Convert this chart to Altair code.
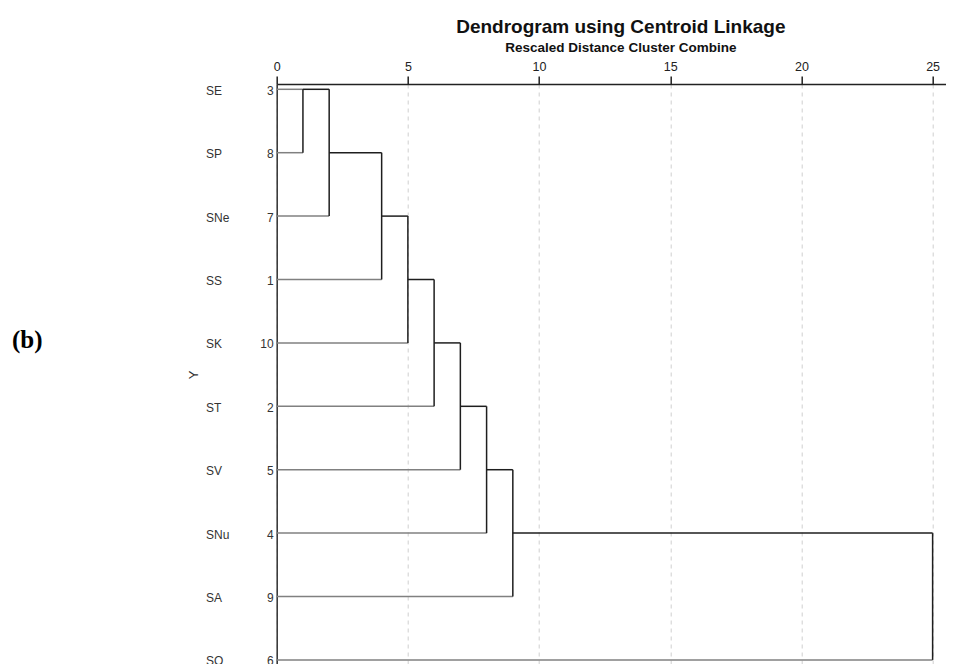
import altair as alt
import pandas as pd

# ---- data ----
row_labels = ["SE", "SP", "SNe", "SS", "SK", "ST", "SV", "SNu", "SA", "SO"]
case_numbers = ["3", "8", "7", "1", "10", "2", "5", "4", "9", "6"]
leaf_join = [1, 1, 2, 4, 5, 6, 7, 8, 9, 25]        # distance where each leaf joins
merge_dist = [1, 2, 4, 5, 6, 7, 8, 9, 25]          # rescaled distance of each merge
merge_top = [0, 0, 1, 2, 3, 4, 5, 6, 7]            # upper row of the merge bracket
merge_bottom = [1, 2, 3, 4, 5, 6, 7, 8, 9]         # lower row of the merge bracket
cluster_row = [0, 1, 2, 3, 4, 5, 6, 7]             # row where merged cluster continues
x_ticks = [0, 5, 10, 15, 20, 25]

# ---- build segment table ----
leaf_rows = [{"x": 0, "x2": leaf_join[i], "y": i, "y2": i} for i in range(len(row_labels))]
link_rows = [{"x": merge_dist[k], "x2": merge_dist[k], "y": merge_top[k], "y2": merge_bottom[k]}
             for k in range(len(merge_dist))]
link_rows += [{"x": merge_dist[k], "x2": merge_dist[k + 1], "y": cluster_row[k], "y2": cluster_row[k]}
              for k in range(len(cluster_row))]
leaf_df = pd.DataFrame(leaf_rows)
link_df = pd.DataFrame(link_rows)
label_df = pd.DataFrame({"y": list(range(len(row_labels))), "label": row_labels, "num": case_numbers})

FONT = "Liberation Sans"

xscale = alt.Scale(domain=[0, 25.51], nice=False, zero=False)
yscale = alt.Scale(domain=[-0.0836, 9.159], reverse=True, nice=False, zero=False)

xaxis = alt.Axis(orient="top", values=x_ticks, title=None, grid=True, gridDash=[4, 4],
                 gridColor="#cfcfcf", gridWidth=1, domainColor="#222222", domainWidth=1.5,
                 tickColor="#222222", tickSize=8, tickWidth=1.5, labelFont=FONT,
                 labelFontSize=12.5, labelColor="#222222", labelPadding=3, labelAngle=0,
                 labelFlush=False, format="d")
yaxis = alt.Axis(orient="left", labels=False, ticks=False, grid=False, domain=True,
                 domainColor="#333333", domainWidth=1.5, title="Y", titleFont=FONT,
                 titleFontSize=13, titleFontWeight="normal", titleColor="#333333",
                 titleAngle=-90, titleX=-83, titleY=290.5, titleAlign="center",
                 titleBaseline="middle")

X = alt.X("x:Q", scale=xscale, axis=xaxis)
Y = alt.Y("y:Q", scale=yscale, axis=yaxis)

leaves = alt.Chart(leaf_df).mark_rule(color="#808080", strokeWidth=1.5).encode(
    x=X, x2="x2:Q", y=Y, y2="y2:Q")
links = alt.Chart(link_df).mark_rule(color="#1e1e1e", strokeWidth=1.5).encode(
    x=X, x2="x2:Q", y=Y, y2="y2:Q")

names = alt.Chart(label_df).mark_text(align="left", baseline="middle", font=FONT,
                                      fontSize=12, color="#333333", dy=1.5).encode(
    x=alt.value(-70.7), y=Y, text="label:N")
nums = alt.Chart(label_df).mark_text(align="right", baseline="middle", font=FONT,
                                     fontSize=12, color="#333333", dy=1.5).encode(
    x=alt.value(-3), y=Y, text="num:N")
panel = alt.Chart(pd.DataFrame({"t": ["(b)"]})).mark_text(
    align="left", baseline="alphabetic", font="Liberation Serif", fontSize=25,
    fontWeight="bold", color="#000000").encode(
    x=alt.value(-264.7), y=alt.value(264.3), text="t:N")

chart = alt.layer(leaves, links, names, nums, panel).properties(
    width=669.3,
    height=586,
    padding={"left": 268.7, "top": 76, "right": 0, "bottom": 0},
    autosize=alt.AutoSizeParams(type="none"),
    title=alt.TitleParams(
        text="Dendrogram using Centroid Linkage",
        subtitle="Rescaled Distance Cluster Combine",
        font=FONT, fontSize=19, fontWeight="bold", color="#111111",
        subtitleFont=FONT, subtitleFontSize=13.5, subtitleFontWeight="bold",
        subtitleColor="#111111", subtitlePadding=4, anchor="middle", dx=9.5, offset=6),
).configure_view(stroke=None).configure(background="white")

chart.save("out.html", embed_options={"renderer": "svg", "actions": False})
